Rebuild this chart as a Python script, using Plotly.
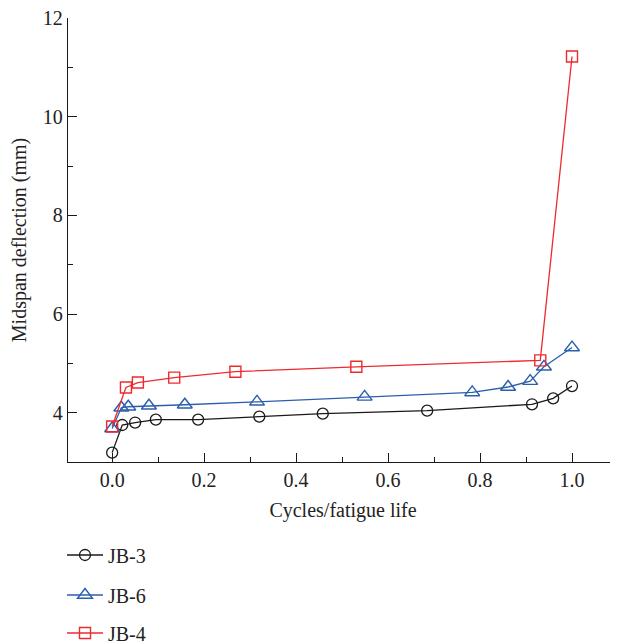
import plotly.graph_objects as go

# Data
jb3_x = [0.0, 0.022, 0.05, 0.095, 0.187, 0.32, 0.458, 0.685, 0.913, 0.959, 1.0]
jb3_y = [3.19, 3.75, 3.80, 3.86, 3.86, 3.92, 3.98, 4.04, 4.17, 4.29, 4.54]

jb6_x = [0.0, 0.02, 0.035, 0.08, 0.158, 0.315, 0.549, 0.783, 0.861, 0.909, 0.939, 1.0]
jb6_y = [3.68, 4.10, 4.12, 4.14, 4.16, 4.22, 4.32, 4.41, 4.52, 4.64, 4.93, 5.32]

jb4_x = [0.0, 0.03, 0.056, 0.135, 0.268, 0.531, 0.931, 1.0]
jb4_y = [3.72, 4.51, 4.61, 4.71, 4.83, 4.93, 5.06, 11.22]

x_ticks = [0.0, 0.2, 0.4, 0.6, 0.8, 1.0]
x_tick_labels = ["0.0", "0.2", "0.4", "0.6", "0.8", "1.0"]
y_ticks = [4, 6, 8, 10, 12]
y_tick_labels = ["4", "6", "8", "10", "12"]

FONT = "Liberation Serif"
BLACK = "#1a1a1a"
BLUE = "#2b5fad"
RED = "#ee2a2f"
TXT = "#222"

# the page body has an 8px default margin; figure is sized to fit the window
OFF = 8
W, H = 618 - OFF, 644 - OFF
L, T = 68 - OFF, 18 - OFF
B = H - (462 - OFF)
PW, PH = W - L, H - T - B

fig = go.Figure()
fig.add_trace(go.Scatter(
    x=jb3_x, y=jb3_y, name="JB-3", mode="lines+markers",
    line=dict(color=BLACK, width=1.3),
    marker=dict(symbol="circle-open", size=11, color=BLACK, line=dict(width=1.3)),
    legend="legend"))
fig.add_trace(go.Scatter(
    x=jb6_x, y=jb6_y, name="JB-6", mode="lines+markers",
    line=dict(color=BLUE, width=1.3),
    marker=dict(symbol="triangle-up-open", size=13, color=BLUE, line=dict(width=1.4)),
    legend="legend2"))
fig.add_trace(go.Scatter(
    x=jb4_x, y=jb4_y, name="JB-4", mode="lines+markers",
    line=dict(color=RED, width=1.3),
    marker=dict(symbol="square-open", size=11, color=RED, line=dict(width=1.4)),
    legend="legend3"))

axis_common = dict(
    showgrid=False, zeroline=False, showline=True, linecolor=BLACK, linewidth=1.3,
    ticks="inside", ticklen=9, tickwidth=1.2, tickcolor=BLACK,
    ticklabeloverflow="allow",
    tickfont=dict(family=FONT, size=20, color=TXT),
    title_font=dict(family=FONT, size=20, color=TXT),
)

fig.update_xaxes(
    range=[-0.096, 1.1], tickvals=x_ticks, ticktext=x_tick_labels,
    title_text="Cycles/fatigue life", title_standoff=12,
    minor=dict(dtick=0.1, ticklen=5, tickwidth=1.2, tickcolor=BLACK, ticks="inside"),
    **axis_common)
fig.update_yaxes(
    range=[3, 12], tickvals=y_ticks, ticktext=y_tick_labels,
    title_text="Midspan deflection (mm)", title_standoff=12,
    minor=dict(tickvals=[5, 7, 9, 11], ticklen=5, tickwidth=1.2, tickcolor=BLACK, ticks="inside"),
    **axis_common)


def legend_at(ypage):
    return dict(font=dict(family=FONT, size=20, color=TXT), bgcolor="rgba(0,0,0,0)",
                x=(62 - OFF - L) / PW, xanchor="left", yanchor="middle", itemwidth=36,
                y=(H - B - (ypage - OFF)) / PH)


fig.update_layout(
    width=W, height=H,
    margin=dict(l=L, r=0, t=T, b=B, autoexpand=False),
    plot_bgcolor="white", paper_bgcolor="white",
    showlegend=True,
    legend=legend_at(555),
    legend2=legend_at(595),
    legend3=legend_at(633),
)

fig.write_html("out.html")
